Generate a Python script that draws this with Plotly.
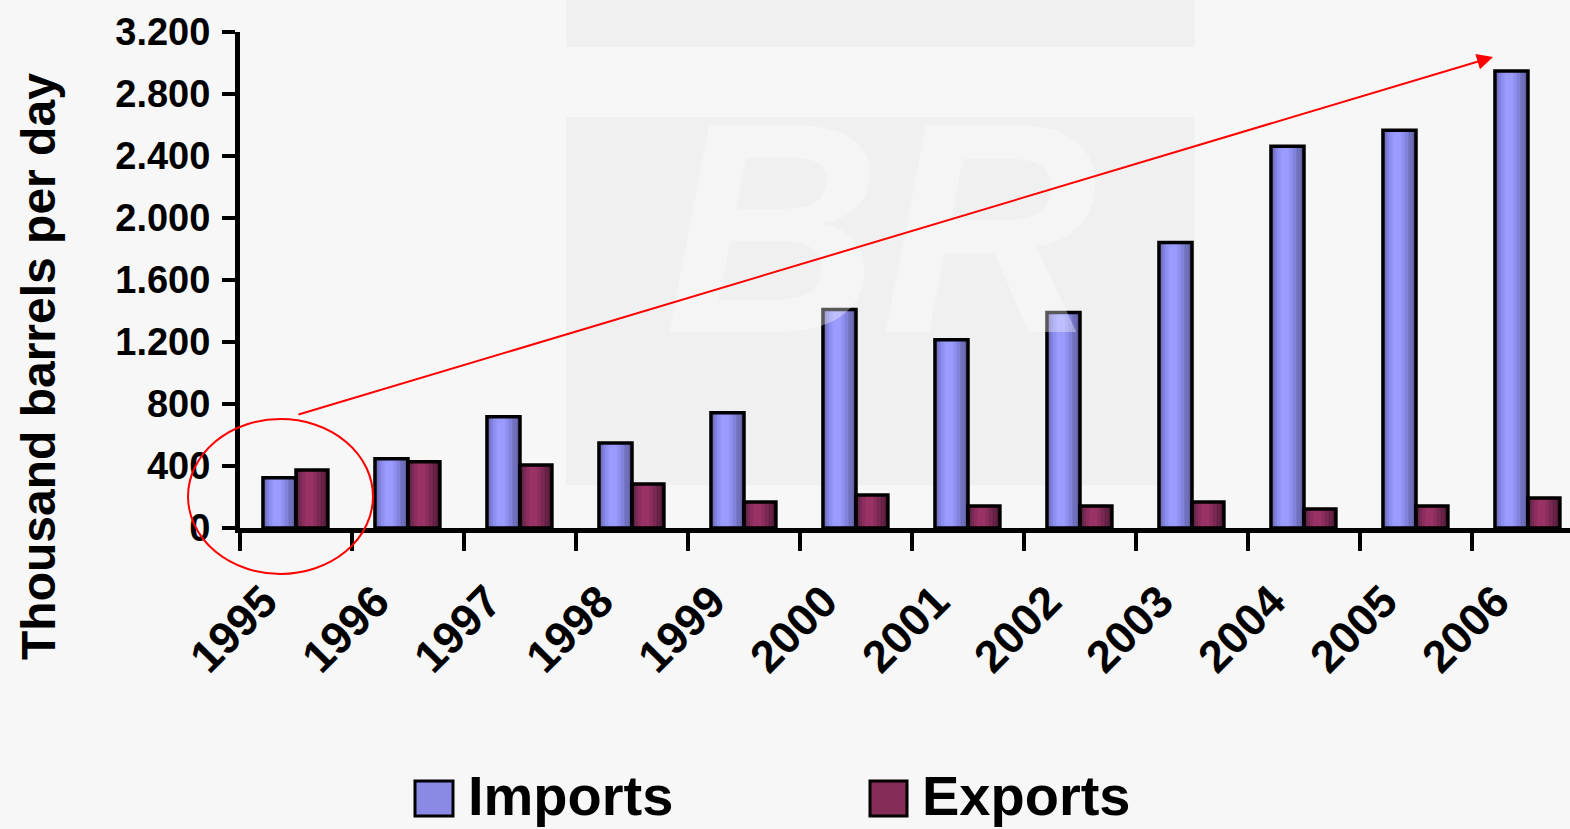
import plotly.graph_objects as go

# ---------------- data ----------------
years = ["1995", "1996", "1997", "1998", "1999", "2000",
         "2001", "2002", "2003", "2004", "2005", "2006"]
imports = [325, 446, 717, 549, 743, 1409, 1215, 1390, 1842, 2463, 2566, 2948]
exports = [375, 427, 407, 284, 168, 213, 142, 142, 168, 123, 142, 194]
series_names = ["Imports", "Exports"]
y_title = "Thousand barrels per day"
y_ticks = [0, 400, 800, 1200, 1600, 2000, 2400, 2800, 3200]

# ---------------- layout geometry (pixels) ----------------
W, H = 1570, 829
L, R, T, B = 240, 0, 32, 301
PW, PH = W - L - R, H - T - B
FONT = "Liberation Sans, Arial, sans-serif"
BG = "#F7F7F7"


def px_x(p):
    return (p - L) / PW


def px_y(p):
    return (T + PH - p) / PH


# gradient layers: (width fraction, center fraction, colour)
imp_layers = [(1.00, 0.50, "#5F5FA0"), (0.86, 0.47, "#7070BE"),
              (0.66, 0.44, "#8282DC"), (0.46, 0.42, "#9090F2"),
              (0.26, 0.42, "#9A9AFF")]
exp_layers = [(1.00, 0.50, "#4E1A34"), (0.86, 0.47, "#662245"),
              (0.66, 0.44, "#7A2953"), (0.46, 0.42, "#8C2E5D"),
              (0.26, 0.42, "#993366")]

fig = go.Figure()

bar_specs = [
    (imports, -0.295, 0.295, imp_layers, series_names[0]),
    (exports, 0.0, 0.285, exp_layers, series_names[1]),
]
for vals, off, wid, layers, name in bar_specs:
    for wf, cf, col in layers:
        w = wid * wf
        o = off + wid * cf - w / 2
        fig.add_trace(go.Bar(
            x=years, y=vals, offset=o, width=w, name=name,
            marker=dict(color=col, line=dict(width=0)),
            showlegend=False, hoverinfo="skip"))
    fig.add_trace(go.Bar(
        x=years, y=vals, offset=off, width=wid, name=name,
        marker=dict(color="rgba(0,0,0,0)", line=dict(color="black", width=3.5)),
        showlegend=False))

shapes = []
# watermark rectangles
shapes.append(dict(type="rect", xref="paper", yref="paper", layer="below",
                   x0=px_x(566), x1=px_x(1195), y0=px_y(47), y1=px_y(0),
                   fillcolor="#F0F0F0", line=dict(width=0)))
shapes.append(dict(type="rect", xref="paper", yref="paper", layer="below",
                   x0=px_x(566), x1=px_x(1195), y0=px_y(485), y1=px_y(117),
                   fillcolor="#F0F0F0", line=dict(width=0)))
# red ellipse
shapes.append(dict(type="circle", xref="paper", yref="paper", layer="above",
                   x0=px_x(188), x1=px_x(373), y0=px_y(574), y1=px_y(419),
                   line=dict(color="#FF0000", width=2)))
# legend swatches
leg_cols = ["#8A8AE6", "#862C59"]
leg_box = [(415, 453), (870, 907)]
for (x0, x1), c in zip(leg_box, leg_cols):
    shapes.append(dict(type="rect", xref="paper", yref="paper",
                       x0=px_x(x0), x1=px_x(x1), y0=px_y(816), y1=px_y(781),
                       fillcolor=c, line=dict(color="black", width=3)))

annotations = []
# watermark letters
annotations.append(dict(text="<b><i>BR</i></b>", xref="paper", yref="paper",
                        x=px_x(880), y=px_y(228), showarrow=False,
                        xanchor="center", yanchor="middle",
                        font=dict(family=FONT, size=300,
                                  color="rgba(255,255,255,0.35)")))
# red arrow
annotations.append(dict(text="", xref="paper", yref="paper",
                        x=px_x(1493), y=px_y(57), ax=297 - 1493, ay=415 - 57,
                        showarrow=True, arrowhead=2, arrowsize=1.6,
                        arrowwidth=2, arrowcolor="#FF0000"))
# y title
annotations.append(dict(text=y_title, xref="paper", yref="paper",
                        x=px_x(38), y=px_y(367), textangle=-90,
                        showarrow=False, xanchor="center", yanchor="middle",
                        font=dict(family=FONT, size=48, color="black",
                                  weight="bold")))
# legend labels
for (x0, x1), name in zip(leg_box, series_names):
    annotations.append(dict(text=name, xref="paper", yref="paper",
                            x=px_x(x1 + 13), y=px_y(795), showarrow=False,
                            xanchor="left", yanchor="middle",
                            font=dict(family=FONT, size=56, color="black",
                                      weight="bold")))

fig.update_layout(
    width=W, height=H,
    margin=dict(l=L, r=R, t=T, b=B, pad=0),
    paper_bgcolor=BG, plot_bgcolor="rgba(0,0,0,0)",
    barmode="overlay",
    separators=",.",
    showlegend=False,
    shapes=shapes, annotations=annotations,
    font=dict(family=FONT, color="black"),
    xaxis=dict(type="category", range=[-0.5, 11.375],
               showline=True, linecolor="black", linewidth=5,
               ticks="outside", tickson="boundaries", ticklen=18,
               tickwidth=4, tickcolor="black", tickangle=-45,
               ticklabelstandoff=24, ticklabelshift=-32,
               tickfont=dict(family=FONT, size=45, weight="bold"),
               showgrid=False, zeroline=False, fixedrange=True),
    yaxis=dict(range=[0, 3200], tickvals=y_ticks, tickformat=",d",
               showline=True, linecolor="black", linewidth=5,
               ticks="outside", ticklen=13, tickwidth=4, tickcolor="black",
               ticklabelstandoff=4,
               tickfont=dict(family=FONT, size=38, weight="bold"),
               showgrid=False, zeroline=False, fixedrange=True),
)

fig.write_html("out.html",
               config={"displayModeBar": False},
               post_script="document.body.style.margin='0';"
                           "document.body.style.padding='0';")
